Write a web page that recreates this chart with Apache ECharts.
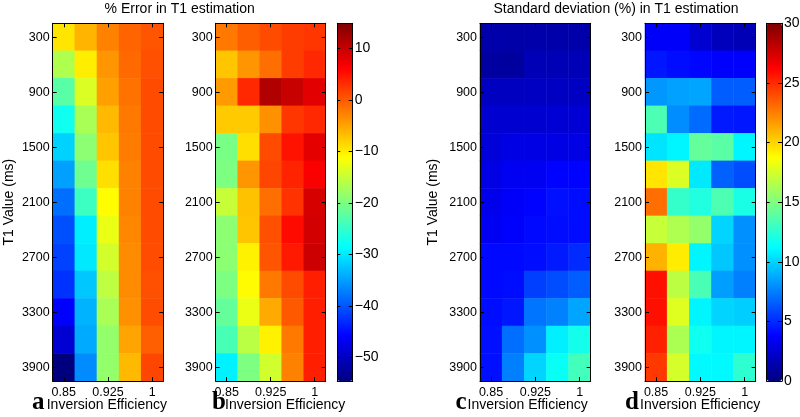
<!DOCTYPE html>
<html>
<head>
<meta charset="utf-8">
<script src="https://cdn.jsdelivr.net/npm/echarts@6/dist/echarts.min.js"></script>
<style>
html,body{margin:0;padding:0;background:#fff;}
#c{width:800px;height:417px;}
</style>
</head>
<body>
<div id="c"></div>
<script>
// ---- categories ----
const inversionEfficiency = ['0.85', '0.8875', '0.925', '0.9625', '1'];
const t1Values = ['300','600','900','1200','1500','1800','2100','2400','2700','3000','3300','3600','3900'];

// ---- panel a: % error (rows = T1 300..3900, cols = efficiency 0.85..1) ----
const errorA = [
  [ -9.4,  -6.1,  -2.6, -0.6,  0.5],
  [-16.6, -10.0,  -4.0, -1.0,  0.8],
  [-22.5, -13.6,  -4.7, -1.6,  1.1],
  [-27.5, -17.0,  -6.4, -2.0,  1.1],
  [-31.6, -19.0,  -7.3, -2.3,  1.1],
  [-35.0, -21.0,  -9.0, -2.6,  1.1],
  [-38.4, -24.4, -11.0, -2.6,  1.1],
  [-40.5, -29.6, -12.5, -3.0,  1.1],
  [-41.4, -30.0, -14.2, -3.3,  1.0],
  [-42.5, -32.3, -15.6, -3.3,  0.8],
  [-46.0, -33.7, -17.0, -3.6,  1.0],
  [-49.0, -34.3, -18.5, -5.0, -0.3],
  [-54.6, -36.4, -18.5, -6.4,  1.4]
];
// ---- panel b: % error ----
const errorB = [
  [ -2.0,  -0.2,   1.1,  2.1,  2.5],
  [ -7.3,  -4.0,  -1.3,  2.1,  3.5],
  [ -4.3,   3.5,  11.5, 10.0,  8.2],
  [ -7.6,  -7.6,  -3.6,  2.5,  3.5],
  [-20.3,  -9.0,   1.1,  5.0,  8.0],
  [-20.0,  -4.0,   1.4,  3.8,  6.5],
  [-15.0,  -7.0,  -1.3,  2.8,  9.0],
  [-19.0,  -7.3,   0.8,  5.5,  9.3],
  [-19.0, -10.3,   0.5,  4.5,  9.7],
  [-20.0, -10.9,  -2.0,  1.1,  4.1],
  [-21.7, -12.5,  -5.4,  0.1,  4.1],
  [-23.6, -15.8, -10.3, -2.0,  4.1],
  [-29.5, -20.0, -14.3, -2.6,  4.1]
];
// ---- panel c: standard deviation (%) ----
const stdC = [
  [1.3, 1.2, 1.3, 1.3, 1.3],
  [1.0, 0.9, 1.6, 1.6, 1.6],
  [1.9, 1.9, 2.0, 2.0, 2.0],
  [2.4, 2.4, 2.4, 2.5, 2.5],
  [2.6, 3.0, 3.0, 3.0, 3.0],
  [3.0, 3.4, 3.4, 3.8, 3.8],
  [3.2, 3.6, 3.8, 4.2, 4.1],
  [3.4, 3.7, 4.0, 4.1, 4.1],
  [4.0, 4.0, 4.1, 4.5, 5.0],
  [4.0, 4.1, 5.6, 6.0, 6.5],
  [4.1, 4.4, 7.2, 7.6, 8.6],
  [4.2, 7.0, 8.0, 10.8, 11.8],
  [4.2, 7.5, 10.0, 11.5, 13.2]
];
// ---- panel d: standard deviation (%) ----
const stdD = [
  [ 3.6,  3.6,  2.4,  1.8,  1.6],
  [ 4.4,  4.1,  3.9,  3.7,  3.7],
  [ 8.2,  8.5,  8.6,  6.5,  6.5],
  [13.5,  7.9,  6.9,  4.5,  4.4],
  [10.5, 11.0, 14.2, 13.9, 11.0],
  [19.5, 17.7, 10.6,  6.6,  6.0],
  [23.0, 12.8, 12.2, 13.5, 12.0],
  [17.1, 16.4, 15.6, 10.0,  8.0],
  [21.0, 19.3, 11.0,  9.6,  8.0],
  [25.8, 16.8, 13.4,  8.4,  7.5],
  [25.8, 17.8, 11.0, 10.0,  9.8],
  [25.3, 16.3, 11.7, 11.0, 11.0],
  [24.6, 17.5, 11.1, 11.1, 12.6]
];
// ---- colour scales ----
const errorRange = [-54.6, 14.9];
const errorTicks = [-50, -40, -30, -20, -10, 0, 10];
const stdRange = [0, 30];
const stdTicks = [0, 5, 10, 15, 20, 25, 30];
const jet = ['#00007f','#0000ff','#007fff','#00ffff','#7fff7f','#ffff00','#ff7f00','#ff0000','#7f0000'];

const FONT = '"Liberation Sans", Arial, Helvetica, sans-serif';

function toCells(m) {
  const out = [];
  m.forEach((row, r) => row.forEach((v, c) => out.push([c, r, v])));
  return out;
}

const TOP = 23.3, H = 357.7;
const panelGrids = [
  {left: 52.7, top: TOP, width: 110.6, height: H},
  {left: 215.7, top: TOP, width: 110.0, height: H},
  {left: 480.0, top: TOP, width: 110.7, height: H},
  {left: 645.0, top: TOP, width: 110.7, height: H}
];
const barGrids = [
  {left: 337.3, top: TOP, width: 15.4, height: H},
  {left: 766.7, top: TOP, width: 15.3, height: H}
];

const grid = panelGrids.concat(barGrids).map(g => Object.assign({containLabel: false, outerBoundsMode: 'none', show: false}, g));

const lineStyle = {color: '#000', width: 1};
const xAxis = [], yAxis = [];
panelGrids.forEach((g, i) => {
  xAxis.push({
    type: 'category', gridIndex: i, data: inversionEfficiency, position: 'bottom', z: 10,
    axisLine: {show: true, lineStyle},
    axisTick: {show: true, inside: true, alignWithLabel: true, interval: 1, length: 4, lineStyle},
    axisLabel: {interval: 1, margin: 5, fontSize: 12.5, color: '#000', fontFamily: FONT},
    splitLine: {show: false}
  });
  xAxis.push({
    type: 'category', gridIndex: i, data: inversionEfficiency, position: 'top', z: 10,
    axisLine: {show: true, onZero: false, lineStyle},
    axisTick: {show: true, inside: true, alignWithLabel: true, interval: 1, length: 4, lineStyle},
    axisLabel: {show: false}, splitLine: {show: false}
  });
  yAxis.push({
    type: 'category', gridIndex: i, data: t1Values, inverse: true, position: 'left', z: 10,
    name: (i === 0 || i === 2) ? 'T1 Value (ms)' : '',
    nameLocation: 'middle', nameGap: i === 0 ? 37 : 40,
    nameTextStyle: {fontSize: 14, color: '#000', fontFamily: FONT},
    axisLine: {show: true, lineStyle},
    axisTick: {show: true, inside: true, alignWithLabel: true, interval: 1, length: 4, lineStyle},
    axisLabel: {interval: 1, margin: 3, fontSize: 12.5, color: '#000', fontFamily: FONT},
    splitLine: {show: false}
  });
  yAxis.push({
    type: 'category', gridIndex: i, data: t1Values, inverse: true, position: 'right', z: 10,
    axisLine: {show: true, onZero: false, lineStyle},
    axisTick: {show: true, inside: true, alignWithLabel: true, interval: 1, length: 4, lineStyle},
    axisLabel: {show: false}, splitLine: {show: false}
  });
});
[[errorRange, errorTicks], [stdRange, stdTicks]].forEach(([rng, ticks], k) => {
  const gi = 4 + k;
  ['bottom', 'top'].forEach(pos => xAxis.push({
    type: 'value', gridIndex: gi, min: 0, max: 1, position: pos, z: 10,
    axisLine: {show: true, onZero: false, lineStyle}, axisTick: {show: false},
    axisLabel: {show: false}, splitLine: {show: false}
  }));
  yAxis.push({
    type: 'value', gridIndex: gi, min: rng[0], max: rng[1], position: 'left', z: 10,
    axisLine: {show: true, onZero: false, lineStyle},
    axisTick: {show: true, inside: true, length: 3, customValues: ticks, lineStyle},
    axisLabel: {show: false}, splitLine: {show: false}
  });
  yAxis.push({
    type: 'value', gridIndex: gi, min: rng[0], max: rng[1], position: 'right', z: 10,
    axisLine: {show: true, onZero: false, lineStyle},
    axisTick: {show: true, inside: true, length: 4, customValues: ticks, lineStyle},
    axisLabel: {show: true, customValues: ticks, margin: 2, fontSize: 14, color: '#000', fontFamily: FONT,
      showMinLabel: true, showMaxLabel: true,
      formatter: v => String(v).replace('-', '\u2212')},
    splitLine: {show: false}
  });
});

const matrices = [errorA, errorB, stdC, stdD];
const series = matrices.map((m, i) => ({
  type: 'heatmap', xAxisIndex: 2 * i, yAxisIndex: 2 * i, data: toCells(m), z: 2,
  itemStyle: {borderWidth: 0}, emphasis: {disabled: true}, progressive: 0
}));

const visualMap = [
  {type: 'continuous', seriesIndex: [0, 1], min: errorRange[0], max: errorRange[1],
   inRange: {color: jet}, calculable: false, hoverLink: false, orient: 'vertical',
   left: barGrids[0].left, top: TOP, itemWidth: barGrids[0].width, itemHeight: H, padding: 0, text: null},
  {type: 'continuous', seriesIndex: [2, 3], min: stdRange[0], max: stdRange[1],
   inRange: {color: jet}, calculable: false, hoverLink: false, orient: 'vertical',
   left: barGrids[1].left, top: TOP, itemWidth: barGrids[1].width, itemHeight: H, padding: 0, text: null}
];

const titleStyle = {fontSize: 14, fill: '#000', fontFamily: FONT, textAlign: 'center', textVerticalAlign: 'middle'};
const letterStyle = {fontSize: 25, fontWeight: 'bold', fill: '#000', fontFamily: '"Liberation Serif", "Times New Roman", serif', textVerticalAlign: 'middle'};
const nameStyle = {fontSize: 14, fill: '#000', fontFamily: FONT, textVerticalAlign: 'middle'};
const letters = [['a', 32, 46.7], ['b', 212, 225], ['c', 455.5, 467.5], ['d', 625, 640]];
const graphic = [
  {type: 'text', style: Object.assign({x: 179.7, y: 9.5, text: '% Error in T1 estimation'}, titleStyle)},
  {type: 'text', style: Object.assign({x: 616, y: 9.5, text: 'Standard deviation (%) in T1 estimation'}, titleStyle)}
];
letters.forEach(([l, lx, tx]) => {
  graphic.push({type: 'text', style: Object.assign({x: lx, y: 403, text: l}, letterStyle)});
  graphic.push({type: 'text', style: Object.assign({x: tx, y: 405, text: 'Inversion Efficiency'}, nameStyle)});
});

const chart = echarts.init(document.getElementById('c'), null, {renderer: 'canvas'});
chart.setOption({
  backgroundColor: '#fff',
  animation: false,
  grid, xAxis, yAxis, series, visualMap, graphic
});
</script>
</body>
</html>
